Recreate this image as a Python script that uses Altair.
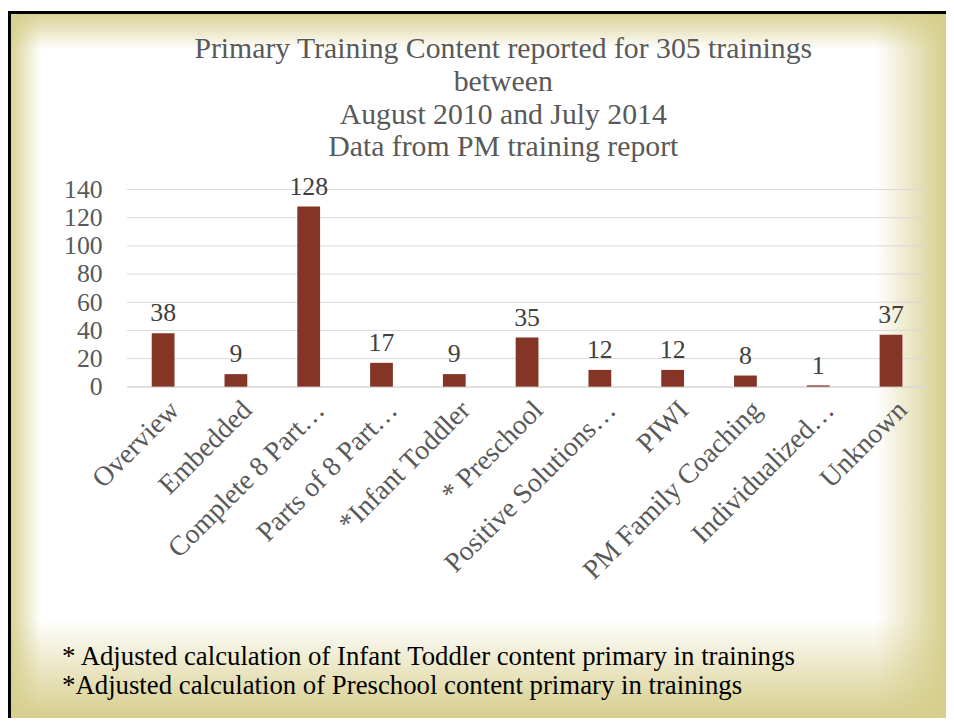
import altair as alt
import pandas as pd

categories = ["Overview", "Embedded", "Complete 8 Part…", "Parts of 8 Part…",
              "*Infant Toddler", "* Preschool", "Positive Solutions…", "PIWI",
              "PM Family Coaching", "Individualized…", "Unknown"]
values = [38, 9, 128, 17, 9, 35, 12, 12, 8, 1, 37]
grid_values = [0, 20, 40, 60, 80, 100, 120, 140]
title_lines = ["Primary Training Content reported for 305 trainings",
               "between",
               "August 2010 and July 2014",
               "Data from PM training report"]
footnotes = ["* Adjusted calculation of  Infant Toddler content primary in trainings",
             "*Adjusted calculation of  Preschool content primary in trainings"]

FONT = "Liberation Serif"
W, H = 807, 199
PL, PT, PR, PB = 120, 180, 19, 334
OLIVE = "#D6CE8C"
BAR = "#853525"

df = pd.DataFrame({"cat": categories, "n": values})
grid_df = pd.DataFrame({"v": grid_values})
bg_df = pd.DataFrame({"k": [0]})

vert = alt.LinearGradient(
    gradient="linear",
    stops=[alt.GradientStop(offset=0, color=OLIVE),
           alt.GradientStop(offset=0.055, color="#FFFFFF"),
           alt.GradientStop(offset=0.86, color="#FFFFFF"),
           alt.GradientStop(offset=1, color=OLIVE)],
    x1=0, y1=0, x2=0, y2=1)
horiz = alt.LinearGradient(
    gradient="linear",
    stops=[alt.GradientStop(offset=0, color="rgba(214,206,140,1)"),
           alt.GradientStop(offset=0.035, color="rgba(214,206,140,0)"),
           alt.GradientStop(offset=0.925, color="rgba(214,206,140,0)"),
           alt.GradientStop(offset=1, color="rgba(214,206,140,1)")],
    x1=0, y1=0, x2=1, y2=0)

full = dict(x=alt.value(-PL), x2=alt.value(W + PR), y=alt.value(-PT), y2=alt.value(H + PB))
bg = alt.Chart(bg_df).mark_rect(fill=vert, strokeWidth=0).encode(**full)
ov = alt.Chart(bg_df).mark_rect(fill=horiz, strokeWidth=0).encode(**full)
border_l = alt.Chart(bg_df).mark_rule(color="black", strokeWidth=3).encode(
    x=alt.value(-PL + 1.5), y=alt.value(-PT), y2=alt.value(H + PB))
border_t = alt.Chart(bg_df).mark_rule(color="black", strokeWidth=3).encode(
    x=alt.value(-PL), x2=alt.value(W + PR), y=alt.value(-PT + 1.5))

yscale = alt.Scale(domain=[0, 140], nice=False)
yaxis = alt.Axis(values=grid_values, grid=False, domain=False, ticks=False,
                 labelFont=FONT, labelFontSize=26, labelColor="#595959",
                 labelPadding=25, title=None, zindex=1)

xaxis = alt.Axis(labelAngle=-45, labelAlign="right", labelBaseline="middle",
                 labelPadding=19, labelOffset=12, labelFont=FONT, labelFontSize=28,
                 labelColor="#595959", labelLimit=500, ticks=False,
                 domainColor="#D9D9D9", domainWidth=1, zindex=1,
                 title=footnotes, titleFont=FONT, titleFontSize=27,
                 titleFontWeight="normal", titleColor="#000000",
                 titleAnchor="start", titleAlign="left", titleX=-66, titleY=280,
                 titleBaseline="alphabetic", titleLineHeight=29)
xenc = alt.X("cat:N", sort=categories,
             scale=alt.Scale(paddingInner=0.687, paddingOuter=0.34), axis=xaxis)

grid = alt.Chart(grid_df).mark_rule(color="#D9D9D9", strokeWidth=1).encode(
    y=alt.Y("v:Q", scale=yscale, axis=yaxis), x=alt.value(0), x2=alt.value(W))

bars = alt.Chart(df).mark_bar(color=BAR).encode(
    x=xenc, y=alt.Y("n:Q", scale=yscale, axis=yaxis))
labels = alt.Chart(df).mark_text(dy=-12, baseline="alphabetic", font=FONT,
                                 fontSize=26, color="#404040").encode(
    x=xenc, y=alt.Y("n:Q", scale=yscale, axis=yaxis), text="n:Q")

chart = alt.layer(bg, ov, border_l, border_t, grid, bars, labels).properties(
    width=W, height=H,
    padding={"left": PL, "top": PT, "right": PR, "bottom": PB},
    autosize=alt.AutoSizeParams(type="none"),
    background="white",
    title=alt.TitleParams(text=title_lines, font=FONT, fontSize=30,
                          fontWeight="normal", color="#595959", lineHeight=33,
                          anchor="middle", dx=-24, offset=-154, zindex=1),
).configure_view(strokeWidth=0)

chart.save("out.html", embed_options={"renderer": "svg", "actions": False})
